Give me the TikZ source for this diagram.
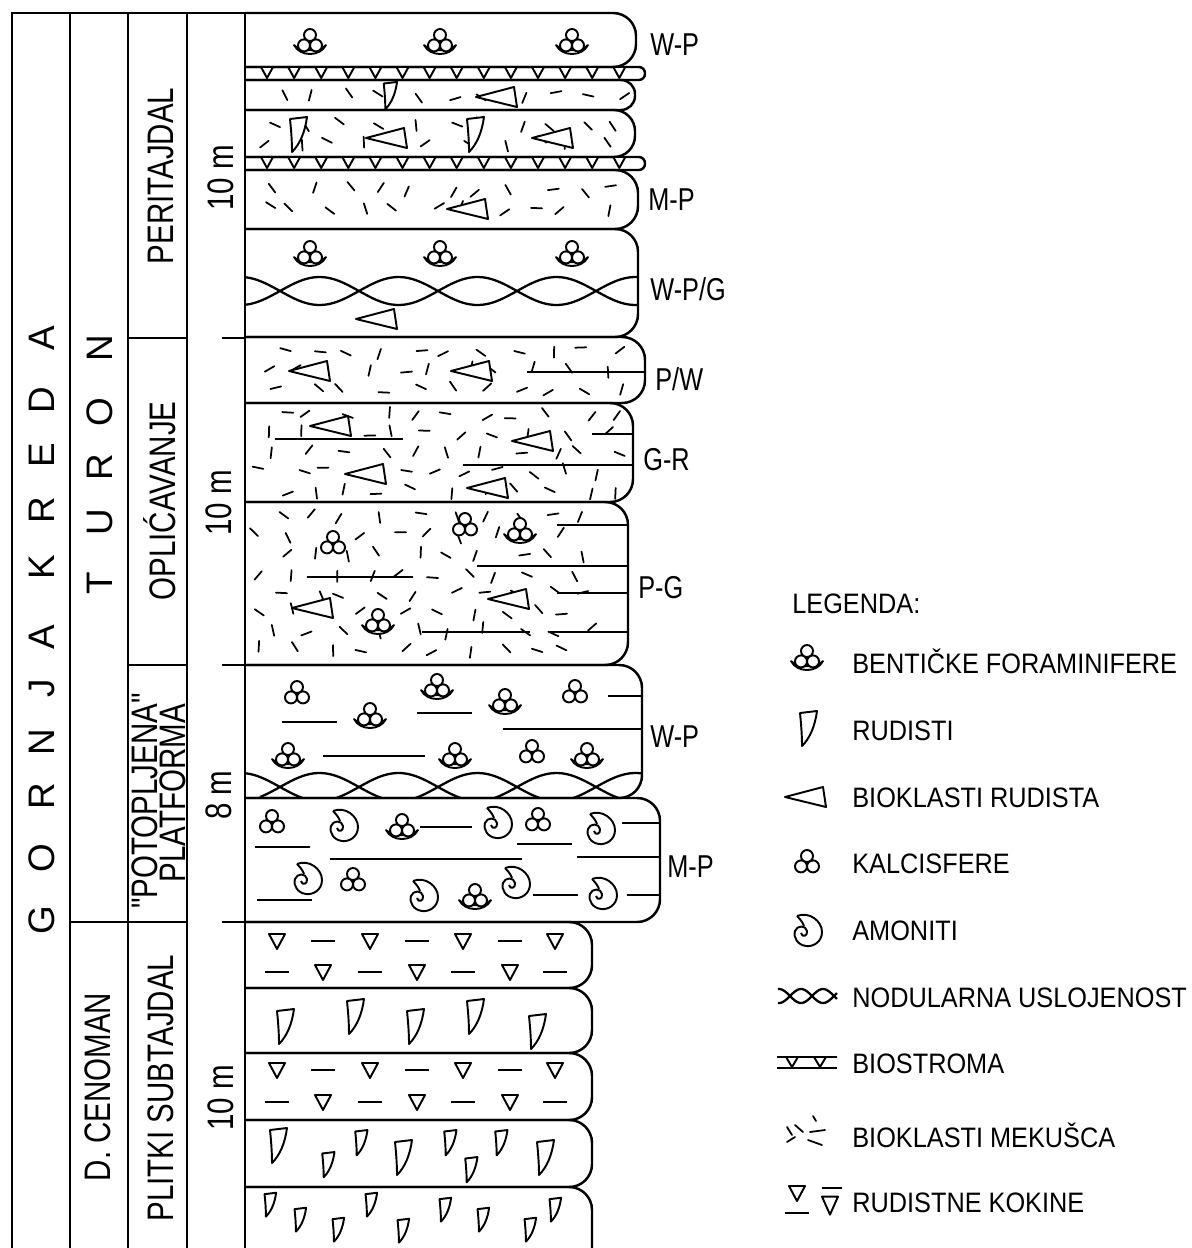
\documentclass[tikz,border=0pt]{standalone}
\usepackage{fontspec}
\setmainfont{Liberation Sans}[Ligatures=TeXOff]
\usepackage{graphicx}

\newcommand\nar[2][0.8]{\scalebox{#1}[1]{#2}}
\newcommand\bed[4]{\draw[bedline, rounded corners=#4] (245,#1) -- (#3,#1) -- (#3,#2) -- (245,#2);}
\newcommand\biostroma[1]{%
  \draw[bedline, rounded corners=3.5pt] (245,#1) -- (645,#1) -- (645,#1+13) -- (245,#1+13);
  \foreach \k in {0,...,13} \draw[sym] (261+27.1*\k,#1) -- (273+27.1*\k,#1) -- (267+27.1*\k,#1+11) -- cycle;}
\newcommand\shells[3]{%
  \pgfmathtruncatemacro\nrow{(#2-#1-4)/19}%
  \pgfmathtruncatemacro\ncol{(#3-290)/34}%
  \foreach \i in {1,...,\nrow}{%
    \foreach \j in {0,...,\ncol}{%
      \pgfmathsetmacro\sx{262+34*\j+17*mod(\i,2)+9*rand}%
      \pgfmathsetmacro\sy{#1+(#2-#1-19*(\nrow-1))/2+19*(\i-1)+4*rand}%
      \pgfmathsetmacro\sa{180*rnd}%
      \draw[shell] (\sx,\sy) ++(\sa:5.5) -- ++(\sa+180:11);
    }}}
\newcommand\nodular[3]{%
  \draw[lam] plot[domain=245:#3, samples=90, smooth] (\x,{#1+#2*sin((\x-280)/79*180)});
  \draw[lam] plot[domain=245:#3, samples=90, smooth] (\x,{#1-#2*sin((\x-280)/79*180)});}
\newcommand\kokine[2]{%
  \foreach \x in {277,370,463,555} {\pic at (\x,#1) {kok}; \draw[lam] (\x-12,#2) -- (\x+12,#2);}
  \foreach \x in {323,417,510} {\draw[lam] (\x-12,#1) -- (\x+12,#1); \pic at (\x,#2) {kok};}}

\tikzset{
  bedline/.style={line width=1.4pt},
  lam/.style={line width=1.3pt},
  sym/.style={line width=1.1pt, fill=white, line join=round},
  shell/.style={line width=1pt, line cap=round},
  coltext/.style={rotate=90, anchor=base, inner sep=0pt, font=\fontsize{21}{21}\selectfont},
  faces/.style={anchor=base west, inner sep=0pt, font=\fontsize{18}{18}\selectfont},
  legtext/.style={anchor=base west, inner sep=0pt, font=\fontsize{16}{16}\selectfont},
  benf/.pic={
    \draw[sym] (-16,2) .. controls (-10,14) and (10,14) .. (16,2) .. controls (10,9) and (-10,9) .. cycle;
    \draw[sym] (0,-8) circle[radius=6] (-6,2.4) circle[radius=6] (6,2.4) circle[radius=6];
  },
  kalc/.pic={
    \draw[sym] (0,-6) circle[radius=6] (-6,4.4) circle[radius=6] (6,4.4) circle[radius=6];
  },
  rud/.pic={
    \draw[sym] (-8,-16) -- (9,-18) .. controls (7,-3) and (2,9) .. (-6,17) .. controls (-6,5) and (-7,-6) .. cycle;
  },
  biok/.pic={
    \draw[sym] (-21,1) -- (17,-9) -- (20,11) -- cycle;
  },
  kok/.pic={
    \draw[sym] (-8,-7) -- (8,-7) -- (0,8) -- cycle;
  },
  amon/.pic={
    \draw[sym, fill=none] (-10,-14) .. controls (2,-19) and (15,-9) .. (15,2)
      .. controls (15,12) and (6,17) .. (-1,16)
      .. controls (-9,15) and (-14,8) .. (-12,1)
      .. controls (-10,-5) and (-1,-5) .. (0,1)
      .. controls (1,6) and (-5,8) .. (-6,3);
    \draw[sym, fill=none] (-10,-14) .. controls (-6,-10) and (-4,-7) .. (-3,-4);
  }
}

\begin{document}
\begin{tikzpicture}[x=0.02cm, y=-0.02cm]
\useasboundingbox (0,0) rectangle (1192,1248);
\pgfmathsetseed{11}

% columns
\draw[bedline] (12,1275) -- (12,13) -- (245,13);
\foreach \x in {70,128,187,245} \draw[bedline] (\x,13) -- (\x,1275);
\draw[bedline] (128,338) -- (187,338) (222,338) -- (245,338);
\draw[bedline] (128,665) -- (187,665) (222,665) -- (245,665);
\draw[bedline] (70,922) -- (187,922) (222,922) -- (245,922);

\foreach \ch/\y in {A/338, D/400, E/455, R/510, K/567, A/637, J/688, N/742, R/796, O/858, G/920}
  \node[coltext] (kreda-\y) at (54,\y) {\ch};
\foreach \ch/\y in {N/348, O/412, R/467, U/522, T/583}
  \node[coltext] (turon-\y) at (112,\y) {\ch};
\node[coltext] (cenoman) at (110,1087) {\nar{D. CENOMAN}};
\node[coltext] (peritajdal) at (173,176) {\nar{PERITAJDAL}};
\node[coltext] (oplicavanje) at (175,501) {\nar{OPLIĆAVANJE}};
\node[coltext] (potopljena) at (157,801) {\nar{"POTOPLJENA"}};
\node[coltext] (platforma) at (185,793) {\nar{PLATFORMA}};
\node[coltext] (subtajdal) at (173,1088) {\nar{PLITKI SUBTAJDAL}};
\node[coltext] (thick1) at (233,178) {\nar{10 m}};
\node[coltext] (thick2) at (231,503) {\nar{10 m}};
\node[coltext] (thick3) at (231,795) {\nar{8 m}};
\node[coltext] (thick4) at (233,1098) {\nar{10 m}};

% shell debris
\shells{80}{110}{635}
\shells{110}{157}{635}
\shells{170}{229}{638}
\shells{337}{403}{645}
\shells{403}{502}{633}
\shells{502}{665}{628}

% beds
\bed{13}{67}{636}{13pt}
\biostroma{67}
\bed{80}{110}{635}{8pt}
\bed{110}{157}{635}{12pt}
\biostroma{157}
\bed{170}{229}{638}{13pt}
\bed{229}{337}{638}{13pt}
\bed{337}{403}{645}{13pt}
\bed{403}{502}{633}{13pt}
\bed{502}{665}{628}{13pt}
\bed{665}{798}{642}{13pt}
\bed{798}{922}{660}{13pt}
\bed{922}{988}{592}{13pt}
\bed{988}{1053}{592}{13pt}
\bed{1053}{1120}{592}{13pt}
\bed{1120}{1187}{592}{13pt}
\bed{1187}{1275}{592}{13pt}

% peritajdal
\foreach \x in {310,440,572} {\pic at (\x,43) {benf}; \pic at (\x,255) {benf};}
\pic[scale=0.78] at (390,96) {rud};
\pic at (497,96) {biok};
\pic at (298,135) {rud};
\pic at (475,135) {rud};
\pic at (387,137) {biok};
\pic at (553,137) {biok};
\pic at (468,208) {biok};
\nodular{291}{14}{638}
\pic at (377,318) {biok};

% oplicavanje
\pic at (310,370) {biok};
\pic at (472,370) {biok};
\draw[lam] (527,372) -- (645,372);
\pic at (331,425) {biok};
\draw[lam] (275,439) -- (403,439);
\pic at (366,473) {biok};
\pic at (533,440) {biok};
\draw[lam] (592,434) -- (633,434);
\draw[lam] (463,465) -- (633,465);
\pic at (488,487) {biok};
\pic at (333,543) {kalc};
\pic at (465,525) {kalc};
\pic at (520,532) {benf};
\draw[lam] (557,525) -- (628,525);
\draw[lam] (307,577) -- (413,577);
\draw[lam] (477,566) -- (628,566);
\pic at (313,607) {biok};
\pic at (509,598) {biok};
\draw[lam] (557,593) -- (628,593);
\pic at (378,623) {benf};
\draw[lam] (422,632) -- (530,632);
\draw[lam] (550,632) -- (628,632);

% potopljena platforma
\pic at (297,693) {kalc};
\draw[lam] (282,722) -- (337,722);
\pic at (370,717) {benf};
\pic at (437,688) {benf};
\draw[lam] (417,713) -- (472,713);
\pic at (505,703) {benf};
\pic at (575,692) {kalc};
\draw[lam] (608,696) -- (642,696);
\draw[lam] (503,729) -- (642,729);
\pic at (288,757) {benf};
\draw[lam] (323,756) -- (425,756);
\pic at (455,757) {benf};
\pic at (532,752) {kalc};
\pic at (587,757) {benf};
\begin{scope}
  \clip[rounded corners=13pt] (245,665) -- (642,665) -- (642,798) -- (245,798) -- cycle;
  \nodular{787}{14}{642}
\end{scope}
\pic at (272,822) {kalc};
\pic at (343,825) {amon};
\pic at (402,828) {benf};
\draw[lam] (420,827) -- (472,827);
\pic at (497,822) {amon};
\pic at (538,820) {kalc};
\pic at (600,828) {amon};
\draw[lam] (622,823) -- (660,823);
\draw[lam] (255,847) -- (310,847);
\draw[lam] (517,844) -- (572,844);
\draw[lam] (330,859) -- (522,859);
\draw[lam] (577,857) -- (660,857);
\pic at (307,878) {amon};
\pic at (353,880) {kalc};
\pic at (423,895) {amon};
\pic at (475,898) {benf};
\pic at (515,882) {amon};
\draw[lam] (533,895) -- (578,895);
\pic at (602,893) {amon};
\draw[lam] (627,895) -- (660,895);
\draw[lam] (257,900) -- (312,900);

% plitki subtajdal
\kokine{941}{972}
\kokine{1070}{1102}
\foreach \x/\y in {285/1027, 355/1017, 415/1027, 475/1017, 537/1032, 278/1146, 403/1158, 545/1158}
  \pic at (\x,\y) {rud};
\foreach \x/\y in {328/1165, 361/1143, 450/1143, 471/1170, 501/1143}
  \pic[scale=0.72] at (\x,\y) {rud};
\foreach \x/\y in {270/1205, 300/1220, 338/1230, 371/1205, 403/1231, 445/1210, 483/1220, 530/1230, 555/1210}
  \pic[scale=0.68] at (\x,\y) {rud};

% facies
\node[faces] (wp1) at (650,55) {\nar{W-P}};
\node[faces] (mp1) at (648,210) {\nar{M-P}};
\node[faces] (wpg) at (650,300) {\nar{W-P/G}};
\node[faces] (pw) at (655,390) {\nar{P/W}};
\node[faces] (gr) at (643,470) {\nar{G-R}};
\node[faces] (pg) at (638,598) {\nar{P-G}};
\node[faces] (wp2) at (650,747) {\nar{W-P}};
\node[faces] (mp2) at (667,877) {\nar{M-P}};

% legend
\node[legtext] (legenda) at (792,613) {\nar[0.9]{LEGENDA:}};
\pic at (807,659) {benf};
\node[legtext] (lbenf) at (852,673) {\nar[0.9]{BENTIČKE FORAMINIFERE}};
\pic at (808,729) {rud};
\node[legtext] (lrud) at (852,740) {\nar[0.9]{RUDISTI}};
\pic at (806,796) {biok};
\node[legtext] (lbiok) at (852,807) {\nar[0.9]{BIOKLASTI RUDISTA}};
\pic at (807,862) {kalc};
\node[legtext] (lkalc) at (852,873) {\nar[0.9]{KALCISFERE}};
\pic at (807,930) {amon};
\node[legtext] (lamon) at (852,940) {\nar[0.9]{AMONITI}};
\draw[lam] plot[domain=778:837, samples=40, smooth] (\x,{996+7*sin((\x-790)/22*180)});
\draw[lam] plot[domain=778:837, samples=40, smooth] (\x,{996-7*sin((\x-790)/22*180)});
\node[legtext] (lnod) at (852,1007) {\nar[0.9]{NODULARNA USLOJENOST}};
\draw[lam] (777,1057) -- (837,1057) (777,1068) -- (837,1068);
\foreach \x in {792,820} \draw[sym] (\x-6,1057) -- (\x+6,1057) -- (\x,1067) -- cycle;
\node[legtext] (lbios) at (852,1073) {\nar[0.9]{BIOSTROMA}};
\draw[shell] (787,1127) -- (792,1135) (795,1125) -- (803,1132) (787,1142) -- (795,1137)
  (813,1116) -- (816,1121) (810,1132) -- (825,1130) (808,1140) -- (822,1145);
\node[legtext] (lmek) at (852,1147) {\nar[0.9]{BIOKLASTI MEKUŠCA}};
\pic at (797,1193) {kok};
\draw[lam] (785,1213) -- (809,1213);
\draw[lam] (822,1188) -- (842,1188);
\pic[yscale=1.2] at (830,1205) {kok};
\node[legtext] (lkok) at (852,1212) {\nar[0.9]{RUDISTNE KOKINE}};
\end{tikzpicture}
\end{document}
